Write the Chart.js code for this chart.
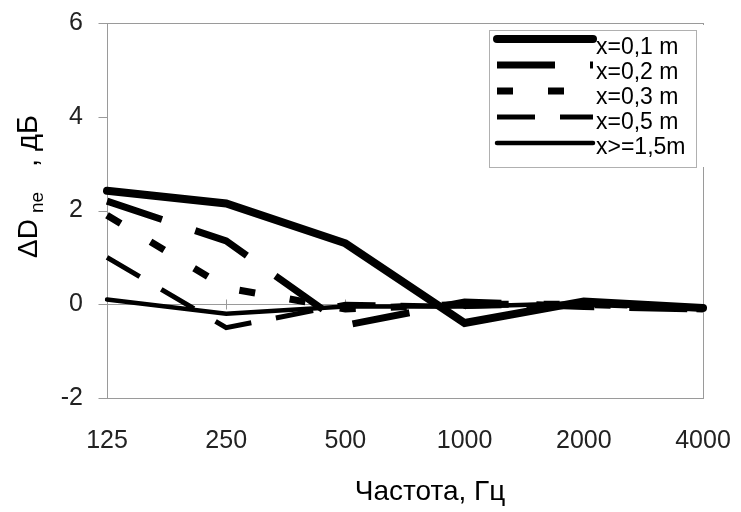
<!DOCTYPE html>
<html>
<head>
<meta charset="utf-8">
<script src="https://cdn.jsdelivr.net/npm/chart.js@4.4.1/dist/chart.umd.min.js"></script>
<style>
  html, body { margin: 0; padding: 0; background: #fff; }
  #wrap { width: 741px; height: 512px; }
</style>
</head>
<body>
<div id="wrap"><canvas id="chart" width="741" height="512"></canvas></div>
<script>
// Frequency bands (category axis) and ΔD values per distance, dB
const frequencies = ['125', '250', '500', '1000', '2000', '4000'];
const seriesNames = ['x=0,1 m', 'x=0,2 m', 'x=0,3 m', 'x=0,5 m', 'x>=1,5m'];
const dist01 = [2.42, 2.15, 1.3, -0.4, 0.06, -0.08];
const dist02 = [2.2, 1.35, -0.45, 0.05, -0.05, -0.1];
const dist03 = [1.9, 0.35, -0.1, 0.0, 0.0, -0.1];
const dist05 = [1.0, -0.5, 0.0, -0.05, 0.0, -0.1];
const dist15 = [0.1, -0.2, -0.05, -0.05, 0.02, -0.1];
const yTicks = [-2, 0, 2, 4, 6];
const xTitle = 'Частота, Гц';

const FONT = "'Liberation Sans', Arial, sans-serif";
const GREY = '#9a9a9a';

const lineStyles = [
  { width: 8, dash: [], cap: 'round' },
  { width: 7, dash: [58, 35], cap: 'butt' },
  { width: 7, dash: [16, 35], cap: 'butt' },
  { width: 5, dash: [38, 25], cap: 'butt' },
  { width: 4.5, dash: [], cap: 'round' }
];

const seriesData = [dist01, dist02, dist03, dist05, dist15];

const datasets = seriesData.map((values, i) => ({
  label: seriesNames[i],
  data: values,
  borderColor: '#000',
  backgroundColor: '#000',
  borderWidth: lineStyles[i].width,
  borderDash: lineStyles[i].dash,
  borderCapStyle: lineStyles[i].cap,
  borderJoinStyle: 'miter',
  pointRadius: 0,
  tension: 0,
  fill: false
}));

// plot-area frame, y tick marks, zero line with category ticks (Excel style)
const framePlugin = {
  id: 'frame',
  beforeDatasetsDraw(chart) {
    const { ctx, chartArea: a, scales: { x, y } } = chart;
    ctx.save();
    ctx.strokeStyle = GREY;
    ctx.lineWidth = 1;
    const L = Math.round(a.left) + 0.5;
    ctx.strokeRect(L, Math.round(a.top) + 0.5,
      Math.round(a.right - a.left), Math.round(a.bottom - a.top));
    ctx.beginPath();
    yTicks.forEach(v => {
      const py = Math.round(y.getPixelForValue(v)) + 0.5;
      ctx.moveTo(L - 9, py);
      ctx.lineTo(L, py);
    });
    const y0 = Math.round(y.getPixelForValue(0)) + 0.5;
    ctx.moveTo(a.left, y0);
    ctx.lineTo(a.right, y0);
    frequencies.forEach((f, i) => {
      const px = Math.round(x.getPixelForValue(i)) + 0.5;
      ctx.moveTo(px, y0 - 5);
      ctx.lineTo(px, y0 + 5);
    });
    ctx.stroke();
    ctx.restore();
  },
  afterDraw(chart) {
    const { ctx } = chart;
    ctx.save();
    // legend box
    ctx.fillStyle = '#fff';
    ctx.fillRect(486, 25, 222, 142);
    ctx.strokeStyle = '#b0b0b0';
    ctx.lineWidth = 1;
    ctx.strokeRect(489.5, 30.5, 207, 137);
    chart.data.datasets.forEach((ds, i) => {
      const ly = 39 + i * 26;
      ctx.beginPath();
      ctx.strokeStyle = '#000';
      ctx.lineWidth = ds.borderWidth;
      ctx.lineCap = ds.borderCapStyle;
      ctx.setLineDash(ds.borderDash);
      ctx.moveTo(497, ly);
      ctx.lineTo(593, ly);
      ctx.stroke();
      ctx.setLineDash([]);
      ctx.fillStyle = '#000';
      ctx.font = '23px ' + FONT;
      ctx.textAlign = 'left';
      ctx.textBaseline = 'middle';
      ctx.fillText(ds.label, 596, 48 + i * 25);
    });
    // x-axis title
    ctx.font = '28px ' + FONT;
    ctx.textAlign = 'center';
    ctx.textBaseline = 'middle';
    ctx.fillText(xTitle, 430, 492);
    // rotated y-axis title with subscript
    ctx.translate(37, 258);
    ctx.rotate(-Math.PI / 2);
    ctx.textAlign = 'left';
    ctx.textBaseline = 'alphabetic';
    ctx.font = '28px ' + FONT;
    ctx.fillText('\u0394D', 0, 0);
    ctx.font = '19px ' + FONT;
    ctx.fillText('ne', 45, 6);
    ctx.font = '29px ' + FONT;
    ctx.fillText(', дБ', 91, 0);
    ctx.restore();
  }
};

new Chart(document.getElementById('chart'), {
  type: 'line',
  data: { labels: frequencies, datasets },
  plugins: [framePlugin],
  options: {
    responsive: false,
    animation: false,
    layout: { padding: { top: 23, right: 38, bottom: 0, left: 0 } },
    plugins: {
      legend: { display: false },
      tooltip: { enabled: false }
    },
    scales: {
      x: {
        offset: false,
        grid: { display: true, drawOnChartArea: false, drawTicks: true, tickLength: 28, tickColor: 'transparent' },
        border: { display: false },
        ticks: {
          color: '#222', padding: 0, maxRotation: 0, autoSkip: false,
          font: { family: FONT, size: 25 }
        },
        afterFit(s) { s.height = 114; }
      },
      y: {
        min: -2, max: 6,
        afterBuildTicks(s) { s.ticks = yTicks.map(v => ({ value: v })); },
        grid: { drawOnChartArea: false, drawTicks: true, tickLength: 24, tickColor: 'transparent' },
        border: { display: false },
        ticks: {
          color: '#222', padding: 0,
          font: { family: FONT, size: 25 }
        },
        afterFit(s) { s.width = 107; }
      }
    }
  }
});
</script>
</body>
</html>
